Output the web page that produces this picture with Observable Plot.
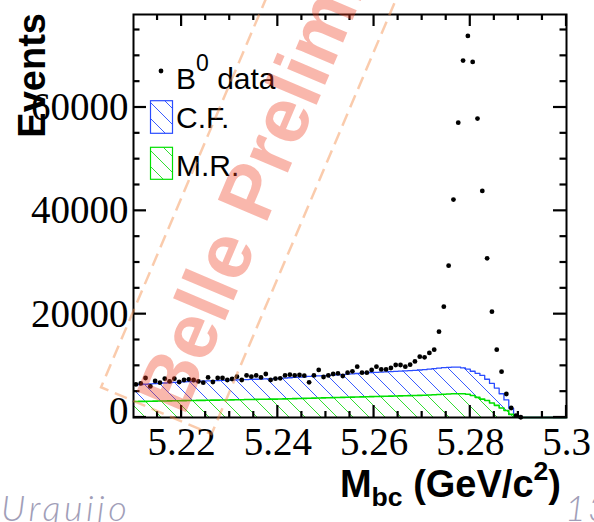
<!DOCTYPE html>
<html><head><meta charset="utf-8">
<script src="https://cdn.jsdelivr.net/npm/d3@7"></script>
<script src="https://cdn.jsdelivr.net/npm/@observablehq/plot@0.6"></script>
<style>html,body{margin:0;padding:0;background:#fff;overflow:hidden} svg{display:block}</style>
</head><body><div id="chart"></div>
<script>
// ---- data ----
// B0 data: events per 1 MeV bin, bins starting at 5.210 GeV
const dataCounts = [
 6400, 6600, 7650, 6020, 7060, 6740, 7510, 6990, 7510, 6870,
 7260, 7380, 7260, 6990, 6740, 7760, 6870, 7650, 7650, 7260,
 7450, 7900, 7260, 8150, 7900, 8150, 7760, 8420, 7260, 7510,
 7580, 8150, 8290, 8150, 8230, 8090, 6800, 8150, 9200, 7840,
 8150, 8420, 8540, 8030, 8670, 8930, 9830, 8670, 8670, 9200,
 9830, 9310, 9310, 9580, 10160, 10160, 9830, 10220, 10860, 11770,
 11640, 12490, 13130, 16610, 21450, 29390, 42170, 57070, 69080, 73860,
 68820, 57850, 43850, 30800, 20480, 13130, 8870, 4550, 1840, 350,
 50
];
// C.F. (stacked top) histogram
const cfTop = [
 6320, 6380, 6440, 6500, 6560, 6620, 6680, 6740, 6800, 6860,
 6900, 6930, 6970, 7000, 7040, 7080, 7110, 7150, 7190, 7220,
 7260, 7290, 7320, 7350, 7380, 7400, 7430, 7460, 7490, 7520,
 7560, 7620, 7690, 7750, 7820, 7880, 7950, 8010, 8070, 8120,
 8170, 8220, 8270, 8310, 8380, 8450, 8520, 8590, 8650, 8710,
 8750, 8790, 8840, 8890, 8940, 8990, 9040, 9090, 9140, 9190,
 9250, 9350, 9450, 9550, 9650, 9700, 9750, 9750, 9600, 9350,
 8950, 8550, 8150, 7400, 6600, 5700, 4600, 3400, 1800, 400,
 0, 0, 0, 0, 0, 0, 0, 0, 0, 0
];
// M.R. histogram
const mrTop = [
 3100, 3120, 3130, 3150, 3160, 3180, 3200, 3210, 3230, 3240,
 3260, 3280, 3290, 3310, 3320, 3340, 3360, 3370, 3390, 3400,
 3420, 3440, 3450, 3470, 3480, 3500, 3520, 3530, 3550, 3560,
 3580, 3600, 3630, 3650, 3680, 3700, 3720, 3750, 3770, 3800,
 3820, 3840, 3870, 3890, 3920, 3940, 3960, 3990, 4010, 4040,
 4060, 4080, 4110, 4130, 4160, 4180, 4200, 4230, 4250, 4280,
 4300, 4350, 4400, 4450, 4500, 4550, 4600, 4600, 4600, 4500,
 4250, 3900, 3550, 3300, 2800, 2350, 1850, 1350, 600, 100,
 0, 0, 0, 0, 0, 0, 0, 0, 0, 0
];
const xMajor = [5.22, 5.24, 5.26, 5.28, 5.30];
const xMajorLabels = ["5.22", "5.24", "5.26", "5.28", "5.3"];
const yMajor = [0, 20000, 40000, 60000];
const yMajorLabels = ["0", "20000", "40000", "60000"];
const legendLabels = ["B", "0", " data", "C.F.", "M.R."];

// ---- derived tables ----
const xMin = 5.21, xMax = 5.30, nBins = cfTop.length;
const bw = (xMax - xMin) / nBins;
const edge = i => xMin + bw * i;
const dataPts = dataCounts.map((v, i) => ({x: edge(i) + bw / 2, y: v}));
const stepPts = d3.range(nBins + 1).map(i => ({
  x: edge(i), cf: cfTop[Math.min(i, nBins - 1)], mr: mrTop[Math.min(i, nBins - 1)]
}));
const xMinor = d3.range(5.215, 5.2999, 0.005).filter(v => !xMajor.some(m => Math.abs(m - v) < 1e-6));
const yMinor = d3.range(5000, 78000, 5000).filter(v => v % 20000 !== 0);

const serif = "'Liberation Serif', 'Times New Roman', serif";
const sans = "'Liberation Sans', Arial, Helvetica, sans-serif";

// inward ROOT-style ticks on all four sides, drawn with the plot's own scales
function insideTicks(index, scales, values, dims) {
  const L = dims.marginLeft, R = dims.width - dims.marginRight;
  const T = dims.marginTop, B = dims.height - dims.marginBottom;
  const g = d3.create("svg:g").attr("stroke", "black").attr("stroke-width", 2.2).attr("fill", "none");
  const add = (x1, y1, x2, y2) => g.append("line").attr("x1", x1).attr("y1", y1).attr("x2", x2).attr("y2", y2);
  const xTick = (v, len) => { const p = scales.x(v); add(p, B, p, B - len); add(p, T, p, T + len); };
  const yTick = (v, len) => { const p = scales.y(v); add(L, p, L + len, p); add(R, p, R - len, p); };
  xMajor.forEach(v => xTick(v, 12));
  xMinor.forEach(v => xTick(v, 6));
  yMajor.forEach(v => yTick(v, 13));
  yMinor.forEach(v => yTick(v, 6.5));
  return g.node();
}

const svgNode = Plot.plot({
  width: 594, height: 522,
  marginLeft: 133, marginRight: 28, marginTop: 14, marginBottom: 105,
  style: {fontFamily: sans, background: "white"},
  x: {domain: [xMin, xMax], axis: null},
  y: {domain: [0, 78000], axis: null},
  marks: [
    Plot.areaY(stepPts, {x: "x", y1: "mr", y2: "cf", curve: "step-after", fill: "url(#hatchCF)"}),
    Plot.areaY(stepPts, {x: "x", y1: 0, y2: "mr", curve: "step-after", fill: "url(#hatchMR)"}),
    Plot.line(stepPts, {x: "x", y: "cf", curve: "step-after", stroke: "#2a4cff", strokeWidth: 1.3}),
    Plot.line(stepPts, {x: "x", y: "mr", curve: "step-after", stroke: "#00e000", strokeWidth: 1.6}),
    Plot.dot(dataPts, {x: "x", y: "y", r: 2.4, fill: "black"}),
    insideTicks,
    Plot.frame({stroke: "black", strokeWidth: 2}),
    Plot.text(xMajor, {x: d => d, text: (d, i) => xMajorLabels[i], frameAnchor: "bottom", lineAnchor: "top", dy: 10, fontSize: 39, fontFamily: serif, fill: "black"}),
    Plot.text(yMajor.slice(1), {y: d => d, text: (d, i) => yMajorLabels[i + 1], frameAnchor: "left", textAnchor: "end", dx: -5, fontSize: 39, fontFamily: serif, fill: "black"}),
    Plot.text(yMajor.slice(0, 1), {y: d => d, text: (d, i) => yMajorLabels[i], frameAnchor: "left", textAnchor: "end", dx: -5, dy: -6, fontSize: 39, fontFamily: serif, fill: "black"})
  ]
});
document.getElementById("chart").appendChild(svgNode);
const svg = d3.select(svgNode);

svg.insert("defs", ":first-child").html(`
  <pattern id="hatchCF" patternUnits="userSpaceOnUse" width="16" height="16">
    <path d="M-4,-4L20,20M-4,12L4,20M12,-4L20,4" stroke="#3a5cff" stroke-width="1" fill="none"/>
  </pattern>
  <pattern id="hatchMR" patternUnits="userSpaceOnUse" width="16" height="16">
    <path d="M-4,-4L20,20M-4,12L4,20M12,-4L20,4" stroke="#33dd33" stroke-width="1" fill="none"/>
  </pattern>`);

// legend
const lg = svg.append("g").attr("font-family", sans).attr("fill", "black").attr("text-anchor", "start");
lg.append("circle").attr("cx", 161).attr("cy", 71).attr("r", 2.4).attr("fill", "black");
const t0 = lg.append("text").attr("x", 176).attr("y", 89).attr("font-size", 30);
t0.append("tspan").text(legendLabels[0]);
t0.append("tspan").attr("font-size", 23).attr("dy", -18).text(legendLabels[1]);
t0.append("tspan").attr("dy", 18).text(legendLabels[2]);
lg.append("rect").attr("x", 150.5).attr("y", 100.7).attr("width", 22).attr("height", 32.6)
  .attr("fill", "url(#hatchCF)").attr("stroke", "#2a4cff").attr("stroke-width", 1.2);
lg.append("text").attr("x", 176).attr("y", 128).attr("font-size", 30).text(legendLabels[3]);
lg.append("rect").attr("x", 150.5).attr("y", 147.3).attr("width", 22).attr("height", 32)
  .attr("fill", "url(#hatchMR)").attr("stroke", "#00e000").attr("stroke-width", 1.2);
lg.append("text").attr("x", 176).attr("y", 175.5).attr("font-size", 30).text(legendLabels[4]);

// axis titles
svg.append("text").attr("transform", "translate(45,13) rotate(-90)").attr("text-anchor", "end")
  .attr("font-family", sans).attr("font-weight", "bold").attr("font-size", 38).attr("fill", "black").text("Events");
const xtl = svg.append("text").attr("x", 561).attr("y", 497).attr("text-anchor", "end")
  .attr("font-family", sans).attr("font-weight", "bold").attr("font-size", 38).attr("fill", "black");
xtl.append("tspan").text("M");
xtl.append("tspan").attr("font-size", 26.6).attr("dy", 9).text("bc");
xtl.append("tspan").attr("dy", -9).text(" (GeV/c");
xtl.append("tspan").attr("font-size", 26.6).attr("dy", -17).text("2");
xtl.append("tspan").attr("dy", 17).text(")");

// footer of the slide
const ft = svg.append("g").attr("font-family", "Lato, 'Open Sans', sans-serif").attr("text-anchor", "start")
  .attr("font-style", "italic").attr("font-weight", 300).attr("font-size", 36).attr("fill", "#a19eb8");
ft.append("text").attr("x", 1).attr("y", 521).attr("letter-spacing", 3.5).text("Urquijo");
ft.append("text").attr("x", 565).attr("y", 521).attr("letter-spacing", 2).text("13");

// watermark
const wm = svg.append("g").attr("transform", "translate(184,417) rotate(-67)").attr("text-anchor", "start");
wm.append("path").attr("d", "M700,-88L-5,-88L-5,32L700,32").attr("fill", "none")
  .attr("stroke", "rgb(245,140,70)").attr("stroke-opacity", 0.45).attr("stroke-width", 2.5).attr("stroke-dasharray", "13,7");
wm.append("text").attr("x", 0).attr("y", 0).attr("font-family", sans).attr("font-weight", "bold")
  .attr("font-size", 78).attr("fill", "rgb(240,60,30)").attr("fill-opacity", 0.37).text("Belle Preliminary");
</script>
</body></html>
